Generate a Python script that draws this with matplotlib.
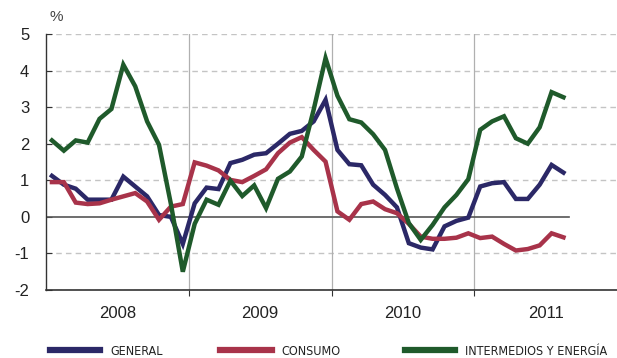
import numpy as np
import matplotlib
matplotlib.use("Agg")
import matplotlib.pyplot as plt

# monthly year-on-year rates, Jan 2008 .. Aug 2011
general = [1.12, 0.88, 0.77, 0.47, 0.47, 0.47, 1.10, 0.83, 0.56, 0.05, 0.00, -0.74,
           0.37, 0.80, 0.76, 1.47, 1.56, 1.70, 1.74, 2.00, 2.27, 2.35, 2.61, 3.20,
           1.83, 1.44, 1.41, 0.88, 0.60, 0.26, -0.72, -0.84, -0.89, -0.26, -0.11, -0.02,
           0.83, 0.92, 0.95, 0.49, 0.49, 0.88, 1.42, 1.21]
consumo = [0.95, 0.95, 0.39, 0.35, 0.37, 0.47, 0.56, 0.65, 0.42, -0.08, 0.28, 0.35,
           1.49, 1.40, 1.27, 1.01, 0.95, 1.12, 1.30, 1.74, 2.03, 2.18, 1.83, 1.51,
           0.15, -0.08, 0.35, 0.42, 0.21, 0.10, -0.19, -0.54, -0.60, -0.60, -0.57, -0.45,
           -0.58, -0.54, -0.74, -0.92, -0.88, -0.78, -0.45, -0.56]
intermedios = [2.09, 1.81, 2.09, 2.03, 2.68, 2.95, 4.16, 3.57, 2.61, 1.97, 0.35, -1.50,
               -0.19, 0.47, 0.33, 0.99, 0.57, 0.86, 0.24, 1.04, 1.24, 1.65, 2.93, 4.34,
               3.31, 2.67, 2.58, 2.26, 1.83, 0.78, -0.17, -0.63, -0.22, 0.26, 0.60, 1.03,
               2.38, 2.61, 2.75, 2.15, 2.00, 2.45, 3.41, 3.27]
years = ["2008", "2009", "2010", "2011"]
series_names = ["GENERAL", "CONSUMO", "INTERMEDIOS Y ENERGÍA"]
colors = ["#2b2867", "#a8334a", "#1f5a2b"]

W, H = 617, 358
fig = plt.figure(figsize=(W / 100, H / 100), dpi=100)
ax = fig.add_axes([46 / W, 68 / H, 571 / W, 256 / H])

x = np.arange(len(general)) + 0.5

# grid and separators
for yv in range(-2, 6):
    if yv == 0:
        continue
    ax.axhline(yv, color="#c4c4c4", lw=1.0, ls=(0, (4, 3)), zorder=1)
for xs in [12, 24, 36]:
    ax.axvline(xs, color="#b0b0b0", lw=0.9, zorder=1)
ax.plot([0, len(general)], [0, 0], color="#555555", lw=1.2, zorder=2)

for vals, c in zip([general, consumo, intermedios], colors):
    ax.plot(x, vals, color=c, lw=3.2, solid_joinstyle="miter", zorder=3)

ax.set_xlim(0, 48)
ax.set_ylim(-2, 5)
for s in ["top", "right"]:
    ax.spines[s].set_visible(False)
ax.spines["left"].set_color("#333333")
ax.spines["bottom"].set_color("#333333")
ax.spines["left"].set_linewidth(1.0)
ax.spines["bottom"].set_linewidth(1.2)

ax.set_yticks(range(-2, 6))
ax.set_yticklabels([str(v) for v in range(-2, 6)], fontsize=12,
                   family="Liberation Sans", color="#222222")
ax.tick_params(axis="y", direction="in", length=4, pad=12, color="#333333")
ax.set_xticks([12, 24, 36])
ax.set_xticklabels([])
ax.tick_params(axis="x", direction="out", length=4, color="#333333")

for i, yr in enumerate(years):
    ax.text(i * 12 + 6, -2.65, yr, ha="center", va="center", fontsize=12,
            family="Liberation Sans", color="#222222")

fig.text(50 / W, 1 - 17 / H, "%", ha="left", va="center", fontsize=11,
         family="Liberation Sans", color="#444444")

# legend
leg_items = [(50, 100, 110), (220, 272, 281), (405, 455, 465)]
for (x0, x1, xt), name, c in zip(leg_items, series_names, colors):
    yy = 1 - 350 / H
    fig.add_artist(plt.Line2D([x0 / W, x1 / W], [yy, yy], color=c, lw=4.5,
                              transform=fig.transFigure))
    fig.text(xt / W, yy - 0.004, name, ha="left", va="center", fontsize=9,
             family="DejaVu Sans", stretch="condensed", color="#222222")

fig.savefig("out.png", dpi=100)
